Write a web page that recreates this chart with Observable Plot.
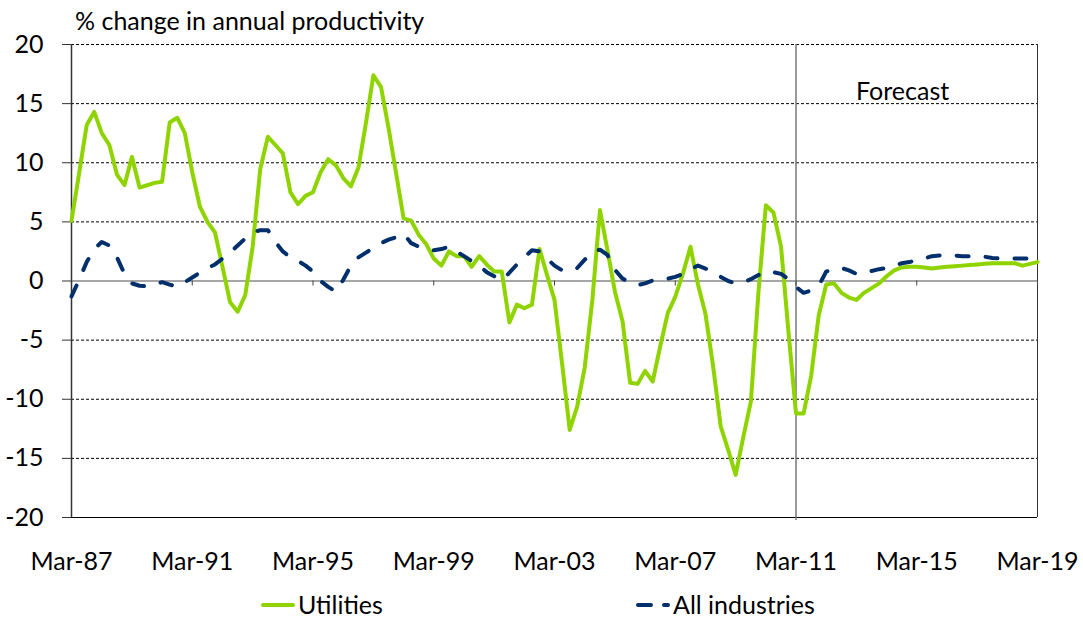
<!DOCTYPE html>
<html>
<head>
<meta charset="utf-8">
<script src="https://cdn.jsdelivr.net/npm/d3@7"></script>
<script src="https://cdn.jsdelivr.net/npm/@observablehq/plot@0.6"></script>
<style>
  html, body { margin: 0; padding: 0; background: #fff; }
  body { width: 1083px; height: 618px; overflow: hidden; font-family: Lato, "Open Sans", sans-serif; color: #000; }
  #title { position: relative; height: 36px; }
  #title span { position: absolute; left: 75px; top: 5px; font-size: 25px; line-height: 30px; white-space: nowrap; }
  #legend { position: relative; height: 37px; font-size: 25px; }
  #legend .item { position: absolute; top: 11px; height: 25px; line-height: 25px; display: flex; align-items: center; white-space: nowrap; }
  #legend svg { margin-right: 3px; }
</style>
</head>
<body>
<div id="title"><span>% change in annual productivity</span></div>
<div id="chart"></div>
<div id="legend"></div>
<script>
// ---- Data (quarterly, Mar-87 .. Mar-19) ----
const seriesNames = ["Utilities", "All industries"];
const startYear = 1987, nQuarters = 129;
const tickLabelsEvery = 16; // quarters between labelled ticks (Mar-87, Mar-91, ...)

const utilities = [
  5.1, 9.1, 13.2, 14.3, 12.5, 11.5, 9.0, 8.1, 10.5, 7.9, 8.1, 8.3, 8.4, 13.4, 13.8, 12.5,
  9.2, 6.3, 5.0, 4.1, 1.2, -1.8, -2.6, -1.2, 2.9, 9.5, 12.2, 11.5, 10.8, 7.5, 6.5, 7.2,
  7.5, 9.2, 10.3, 9.8, 8.7, 8.0, 9.6, 13.4, 17.4, 16.4, 12.9, 9.1, 5.3, 5.1, 3.9, 3.1,
  1.9, 1.3, 2.5, 2.1, 2.1, 1.2, 2.1, 1.4, 0.8, 0.8, -3.5, -2.0, -2.3, -2.0, 2.7, 0.5,
  -1.6, -7.0, -12.6, -10.6, -7.3, -1.6, 6.0, 2.6, -0.9, -3.4, -8.6, -8.7, -7.6, -8.5, -5.5, -2.7,
  -1.35, 0.6, 2.9, -0.3, -2.8, -7.2, -12.3, -14.3, -16.4, -13.2, -10.2, -1.0, 6.4, 5.8, 2.9, -4.4,
  -11.2, -11.2, -8.0, -2.9, -0.3, -0.2, -1.0, -1.4, -1.6, -1.0, -0.6, -0.2, 0.4, 0.9, 1.15, 1.2,
  1.2, 1.15, 1.05, 1.15, 1.2, 1.25, 1.3, 1.35, 1.4, 1.45, 1.5, 1.5, 1.5, 1.5, 1.3, 1.45,
  1.6
];
const allIndustries = [
  -1.3, 0.1, 1.6, 2.7, 3.3, 3.0, 2.0, 0.6, -0.2, -0.4, -0.45, -0.3, -0.1, -0.3, -0.5, -0.1,
  0.3, 0.7, 1.1, 1.4, 1.9, 2.4, 3.0, 3.6, 4.1, 4.3, 4.3, 3.3, 2.5, 2.0, 1.7, 1.3,
  0.8, 0.0, -0.5, -0.9, 0.1, 1.3, 2.0, 2.4, 2.8, 3.2, 3.5, 3.7, 4.0, 3.2, 2.9, 2.7,
  2.6, 2.7, 2.9, 2.5, 2.1, 1.7, 1.3, 0.75, 0.4, 0.06, 0.7, 1.4, 2.0, 2.6, 2.5, 1.9,
  1.3, 0.9, 0.85, 1.1, 1.8, 2.5, 2.65, 2.2, 0.95, 0.2, -0.1, -0.35, -0.2, 0.05, 0.1, 0.2,
  0.35, 0.6, 1.0, 1.3, 1.05, 0.8, 0.35, 0.0, -0.2, -0.1, 0.15, 0.5, 0.8, 0.75, 0.6, 0.15,
  -0.5, -1.0, -0.8, -0.4, 0.8, 1.0, 1.1, 0.9, 0.6, 0.7, 0.85, 1.0, 1.1, 1.3, 1.5, 1.6,
  1.75, 1.9, 2.1, 2.15, 2.15, 2.15, 2.1, 2.1, 2.1, 2.05, 1.95, 1.9, 1.9, 1.9, 1.9, 1.9,
  1.9
];
const yTicks = [-20, -15, -10, -5, 0, 5, 10, 15, 20];
const yGrid = [-15, -10, -5, 5, 10, 15, 20];
const forecastIndex = 96; // Mar-11
const forecastNote = "Forecast";

// ---- Build ----
const quarters = d3.range(nQuarters).map(i => new Date(Date.UTC(startYear, 2 + 3 * i, 1)));
const xTicks = d3.range(0, nQuarters, tickLabelsEvery).map(i => quarters[i]);
const rows = [];
quarters.forEach((d, i) => {
  rows.push({date: d, value: utilities[i], series: seriesNames[0]});
  rows.push({date: d, value: allIndustries[i], series: seriesNames[1]});
});
const green = "#8FD400", navy = "#002F6C";
const fmt = d3.utcFormat("%b-%y");
const FS = 25;

const chart = Plot.plot({
  width: 1083,
  height: 545,
  marginLeft: 71,
  marginRight: 46,
  marginTop: 8,
  marginBottom: 64,
  x: {type: "utc", domain: [quarters[0], quarters[nQuarters - 1]]},
  y: {domain: [-20, 20]},
  style: {fontFamily: "Lato, 'Open Sans', sans-serif", fontSize: FS + "px", color: "#000", background: "#fff", overflow: "visible"},
  marks: [
    Plot.ruleY(yGrid, {stroke: "#000", strokeWidth: 1, strokeDasharray: "3,2"}),
    Plot.ruleY([-20], {stroke: "#000", strokeWidth: 1}),
    Plot.ruleX([quarters[nQuarters - 1]], {stroke: "#333", strokeWidth: 1}),
    Plot.ruleX([quarters[forecastIndex]], {stroke: "#777", strokeWidth: 1.5, insetBottom: -3}),
    Plot.ruleY([0], {stroke: "#888", strokeWidth: 1.5}),
    Plot.ruleX(xTicks.slice(1), {y1: 0, y2: 0, insetBottom: -5, stroke: "#444", strokeWidth: 1}),
    Plot.ruleX([quarters[0]], {stroke: "#333", strokeWidth: 1.5}),
    Plot.axisY({ticks: yTicks, tickSize: 9, tickPadding: 19, tickFormat: d => String(d), label: null, fontSize: FS, stroke: "#333"}),
    Plot.axisX({ticks: xTicks, tickSize: 0, tickPadding: 35, tickFormat: fmt, label: null, fontSize: FS}),
    Plot.line(rows.filter(d => d.series === seriesNames[0]), {x: "date", y: "value", stroke: green, strokeWidth: 4, strokeLinejoin: "round"}),
    Plot.line(rows.filter(d => d.series === seriesNames[1]), {x: "date", y: "value", stroke: navy, strokeWidth: 4, strokeDasharray: "12,17", strokeLinecap: "round", strokeLinejoin: "round"}),
    Plot.text([{date: quarters[forecastIndex], value: 16, label: forecastNote}], {x: "date", y: "value", text: "label", textAnchor: "start", dx: 60, fontSize: FS, fill: "#000"})
  ]
});
document.getElementById("chart").appendChild(chart);

// ---- Legend ----
const legend = document.getElementById("legend");
const items = [
  {name: seriesNames[0], color: green, dash: null, left: 261},
  {name: seriesNames[1], color: navy, dash: "13,13", left: 636}
];
for (const it of items) {
  const div = document.createElement("div");
  div.className = "item";
  div.style.left = it.left + "px";
  div.innerHTML = `<svg width="34" height="10"><line x1="2" y1="5" x2="32" y2="5" stroke="${it.color}" stroke-width="4" stroke-linecap="round" ${it.dash ? `stroke-dasharray="${it.dash}"` : ""}/></svg><span>${it.name}</span>`;
  legend.appendChild(div);
}
</script>
</body>
</html>
